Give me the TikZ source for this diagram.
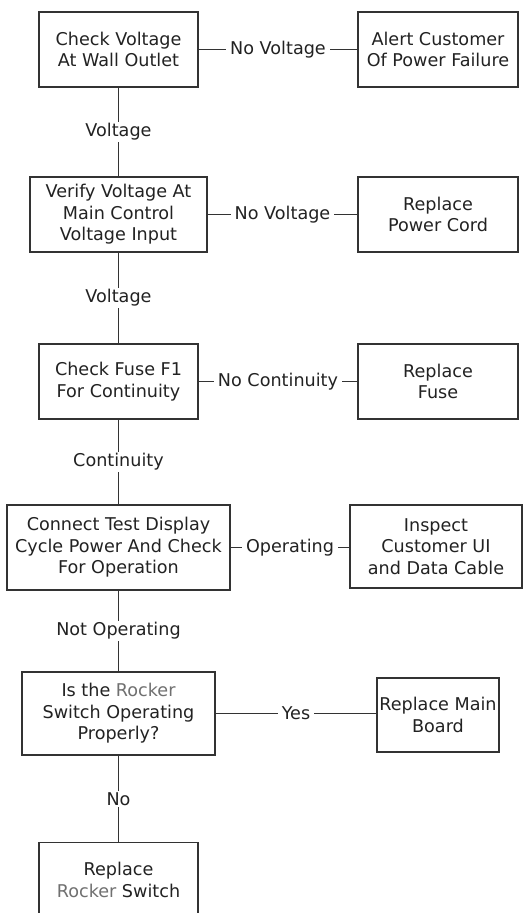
\documentclass[tikz,border=0pt]{standalone}
\usepackage{fontspec}
\setmainfont{DejaVu Sans}
\usepackage{xcolor}
\definecolor{ink}{HTML}{222222}
\definecolor{edge}{HTML}{333333}
\definecolor{rock}{HTML}{707070}
\newcommand{\rocker}{\textcolor{rock}{Rocker}}
\begin{document}
\begin{tikzpicture}[x=1pt,y=-1pt,
  box/.style={draw=edge,line width=1.1pt,fill=white,align=center,inner sep=0pt,text=ink,
    font=\fontsize{17.6}{21.5}\selectfont},
  lab/.style={fill=white,text=ink,inner xsep=4pt,inner ysep=1.5pt,
    font=\fontsize{17.6}{21.5}\selectfont},
  conn/.style={draw=edge,line width=1.1pt}]
\useasboundingbox (0,0) rectangle (527,913);
\clip (0,0) rectangle (527,913);
\node[box,minimum width=159pt,minimum height=75pt] (b1) at (118.5,49.5) {Check Voltage\\At Wall Outlet};
\node[box,minimum width=160pt,minimum height=75pt] (a1) at (438,49.5) {Alert Customer\\Of Power Failure};
\node[box,minimum width=177pt,minimum height=75pt] (b2) at (118.5,214.5) {Verify Voltage At\\Main Control\\Voltage Input};
\node[box,minimum width=160pt,minimum height=75pt] (a2) at (438,214.5) {Replace\\Power Cord};
\node[box,minimum width=159pt,minimum height=75pt] (b3) at (118.5,381.5) {Check Fuse F1\\For Continuity};
\node[box,minimum width=160pt,minimum height=75pt] (a3) at (438,381.5) {Replace\\Fuse};
\node[box,minimum width=223pt,minimum height=85pt] (b4) at (118.5,547.5) {Connect Test Display\\Cycle Power And Check\\For Operation};
\node[box,minimum width=172pt,minimum height=83pt] (a4) at (436,546.5) {Inspect\\Customer UI\\and Data Cable};
\node[box,minimum width=193pt,minimum height=83pt] (b5) at (118.5,713.5) {Is the \rocker\\Switch Operating\\Properly?};
\node[box,minimum width=122pt,minimum height=74pt] (a5) at (438,715) {Replace Main\\Board};
\node[box,minimum width=159pt,minimum height=75pt,anchor=north] (b6) at (118.5,842) {Replace\\\rocker{} Switch};

\draw[conn] (b1.east) -- node[lab]{No Voltage} (a1.west);
\draw[conn] (b2.east) -- node[lab]{No Voltage} (a2.west);
\draw[conn] (b3.east) -- node[lab]{No Continuity} (a3.west);
\draw[conn] (b4.east) -- node[lab]{Operating} (b4.east -| a4.west);
\draw[conn] (b5.east) -- node[lab]{Yes} (b5.east -| a5.west);
\draw[conn] (b1.south) -- node[lab]{Voltage} (b2.north);
\draw[conn] (b2.south) -- node[lab]{Voltage} (b3.north);
\draw[conn] (b3.south) -- node[lab]{Continuity} (b4.north);
\draw[conn] (b4.south) -- node[lab]{Not Operating} (b5.north);
\draw[conn] (b5.south) -- node[lab]{No} (b6.north);
\end{tikzpicture}
\end{document}
